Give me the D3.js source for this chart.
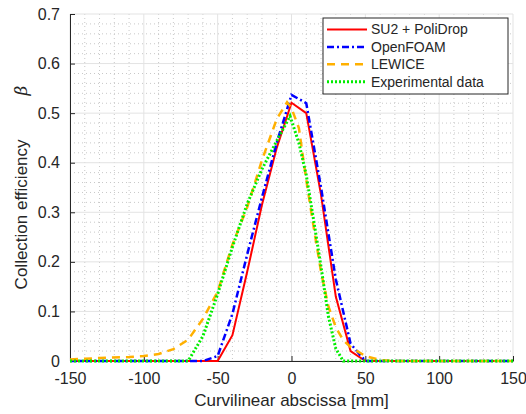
<!DOCTYPE html>
<html>
<head>
<meta charset="utf-8">
<script src="https://cdn.jsdelivr.net/npm/d3@7"></script>
<style>
  body { margin: 0; background: #fff; }
  text { font-family: "Liberation Sans", Arial, sans-serif; fill: #262626; }
</style>
</head>
<body>
<div id="chart"></div>
<script>
// tick labels
const xTicks = [-150, -100, -50, 0, 50, 100, 150];
const yTicks = [0, 0.1, 0.2, 0.3, 0.4, 0.5, 0.6, 0.7];

// series
const su2X = [-150, -50, -40, -30, -20, -10, 0, 10, 20, 30, 40, 50, 150];
const su2Y = [0, 0, 0.052, 0.18, 0.315, 0.43, 0.521, 0.5, 0.335, 0.13, 0.02, 0, 0];

const foamX = [-150, -60, -50, -40, -30, -20, -10, 0, 10, 20, 30, 40, 50, 150];
const foamY = [0, 0, 0.01, 0.095, 0.215, 0.33, 0.44, 0.537, 0.52, 0.35, 0.165, 0.035, 0, 0];

const lewiceX = [-150, -130, -110, -100, -90, -80, -70, -60, -50, -40, -30, -20, -10, -3, 0, 5, 10, 15, 20, 25, 30, 35, 40, 50, 60, 70, 150];
const lewiceY = [0.003, 0.006, 0.008, 0.01, 0.014, 0.024, 0.043, 0.085, 0.14, 0.235, 0.31, 0.405, 0.488, 0.522, 0.51, 0.47, 0.365, 0.27, 0.18, 0.11, 0.068, 0.042, 0.028, 0.01, 0.002, 0, 0];

const expX = [-150, -70, -60, -50, -40, -30, -20, -10, -1, 5, 10, 15, 20, 25, 30, 35, 150];
const expY = [0, 0, 0.05, 0.135, 0.23, 0.317, 0.387, 0.444, 0.494, 0.44, 0.375, 0.284, 0.19, 0.09, 0.025, 0, 0];

const seriesNames = ["SU2 + PoliDrop", "OpenFOAM", "LEWICE", "Experimental data"];

const W = 526, H = 414;
const margin = { top: 14, right: 13, bottom: 53, left: 70 };
const width = W - margin.left - margin.right;
const height = H - margin.top - margin.bottom;

const svg = d3.select("#chart").append("svg")
  .attr("width", W)
  .attr("height", H);

const g = svg.append("g")
  .attr("transform", `translate(${margin.left},${margin.top})`);

const x = d3.scaleLinear().domain([-150, 150]).range([0, width]);
const y = d3.scaleLinear().domain([0, 0.7]).range([height, 0]);

// minor grid (dotted)
const xMinor = d3.range(-150, 151, 10).filter(v => v % 50 !== 0);
const yMinor = d3.range(0, 36, 1).map(v => v * 0.02).filter((v, i) => i % 5 !== 0 && v <= 0.7);

g.append("g").selectAll("line").data(xMinor).enter().append("line")
  .attr("x1", d => x(d)).attr("x2", d => x(d))
  .attr("y1", 0).attr("y2", height)
  .attr("stroke", "#c8c8c8").attr("stroke-width", 1)
  .attr("stroke-dasharray", "1,3");

g.append("g").selectAll("line").data(yMinor).enter().append("line")
  .attr("x1", 0).attr("x2", width)
  .attr("y1", d => y(d)).attr("y2", d => y(d))
  .attr("stroke", "#c8c8c8").attr("stroke-width", 1)
  .attr("stroke-dasharray", "1,3");

// major grid
g.append("g").selectAll("line").data(xTicks).enter().append("line")
  .attr("x1", d => x(d)).attr("x2", d => x(d))
  .attr("y1", 0).attr("y2", height)
  .attr("stroke", "#e3e3e3").attr("stroke-width", 1);

g.append("g").selectAll("line").data(yTicks).enter().append("line")
  .attr("x1", 0).attr("x2", width)
  .attr("y1", d => y(d)).attr("y2", d => y(d))
  .attr("stroke", "#e3e3e3").attr("stroke-width", 1);

// axes
const xAxis = g.append("g")
  .attr("transform", `translate(0,${height})`)
  .call(d3.axisBottom(x).tickValues(xTicks).tickSizeInner(-5).tickSizeOuter(0).tickPadding(12)
    .tickFormat(d => String(d)));

const yAxis = g.append("g")
  .call(d3.axisLeft(y).tickValues(yTicks).tickSizeInner(-5).tickSizeOuter(0).tickPadding(10)
    .tickFormat(d => d === 0 ? "0" : d.toFixed(1)));

[xAxis, yAxis].forEach(a => {
  a.selectAll("path").attr("stroke", "#262626");
  a.selectAll("line").attr("stroke", "#262626");
  a.selectAll("text")
    .style("font-family", "'Liberation Sans', Arial, sans-serif")
    .style("font-size", "16px")
    .attr("fill", "#262626");
});

// curves
const line = d3.line().x(d => x(d[0])).y(d => y(d[1]));

const series = [
  { xs: su2X, ys: su2Y, color: "#ff0000", dash: null, w: 2 },
  { xs: foamX, ys: foamY, color: "#0000ff", dash: "7,3,2,3", w: 2.5 },
  { xs: lewiceX, ys: lewiceY, color: "#ffb000", dash: "8,6", w: 2.5 },
  { xs: expX, ys: expY, color: "#00ee00", dash: "2,2", w: 3 }
];

series.forEach(s => {
  g.append("path")
    .datum(s.xs.map((v, i) => [v, s.ys[i]]))
    .attr("d", line)
    .attr("fill", "none")
    .attr("stroke", s.color)
    .attr("stroke-width", s.w)
    .attr("stroke-dasharray", s.dash);
});

// legend
const lg = svg.append("g").attr("transform", "translate(323,18)");
lg.append("rect")
  .attr("width", 185).attr("height", 76)
  .attr("fill", "#fff").attr("stroke", "#262626").attr("stroke-width", 1);

seriesNames.forEach((name, i) => {
  const s = series[i];
  const cy = 11.5 + i * 17.4;
  lg.append("line")
    .attr("x1", 4).attr("x2", 44)
    .attr("y1", cy).attr("y2", cy)
    .attr("stroke", s.color)
    .attr("stroke-width", s.w)
    .attr("stroke-dasharray", s.dash);
  lg.append("text")
    .attr("x", 48).attr("y", cy)
    .attr("dy", "0.35em")
    .style("font-size", "14px")
    .text(name);
});

// axis titles
svg.append("text")
  .attr("x", margin.left + width / 2)
  .attr("y", 406)
  .attr("text-anchor", "middle")
  .style("font-size", "17px")
  .text("Curvilinear abscissa [mm]");

const yt = svg.append("text")
  .attr("transform", `translate(27,${margin.top + height / 2}) rotate(-90)`)
  .attr("text-anchor", "middle")
  .style("font-size", "17px");
yt.append("tspan").text("Collection efficiency");
yt.append("tspan").attr("dx", 44).style("font-style", "italic")
  .style("font-family", "'DejaVu Serif', serif").text("β");
</script>
</body>
</html>
